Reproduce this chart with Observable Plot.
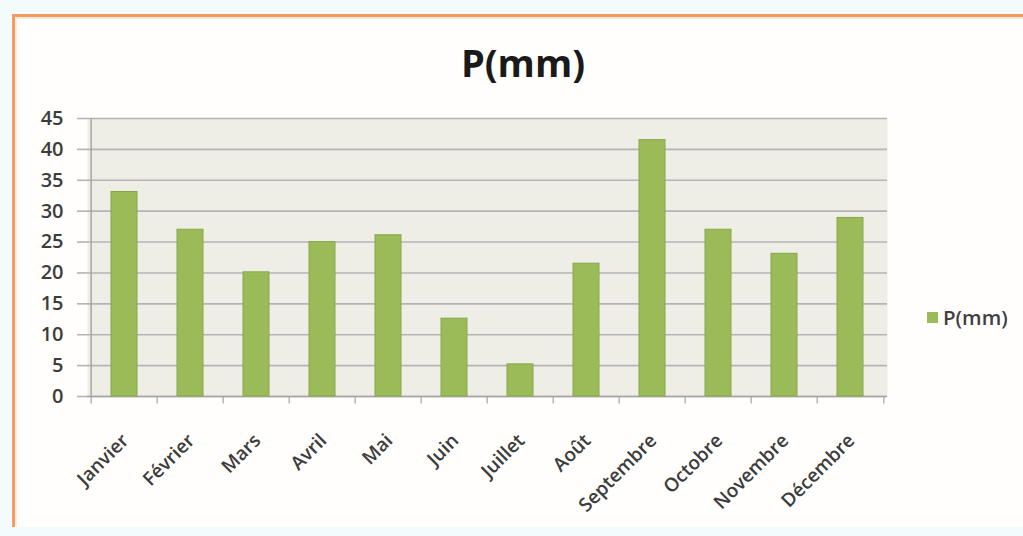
<!DOCTYPE html>
<html>
<head>
<meta charset="utf-8">
<script src="https://cdn.jsdelivr.net/npm/d3@7"></script>
<script src="https://cdn.jsdelivr.net/npm/@observablehq/plot@0.6"></script>
<style>
  html, body { margin: 0; padding: 0; width: 1023px; height: 536px; overflow: hidden; background: #ffffff; font-family: "Open Sans", sans-serif; }
  #wrap { position: relative; width: 1023px; height: 536px; background: #f4fbfc; }
  #frame { position: absolute; left: 12px; top: 14px; width: 1011px; height: 513px; border-top: 3px solid #ef9d62; border-left: 3px solid #ef9d62; background: #fffefc; box-sizing: border-box; box-shadow: inset 2px 2px 0 #fdeadb; }
  #chart { position: absolute; left: 0; top: 0; }
  #title { position: absolute; left: 0; width: 1046px; top: 43px; text-align: center; font-weight: 700; font-size: 38px; color: #1a1a1a; line-height: 1; }
  #legend { position: absolute; left: 927px; top: 303px; display: flex; align-items: center; font-size: 20.5px; font-weight: 600; color: #404040; }
  #legend .sw { width: 11px; height: 11px; background: #9bbb59; margin-right: 5px; }
</style>
</head>
<body>
<div id="wrap">
  <div id="frame"></div>
  <div id="chart"></div>
  <div id="title"></div>
  <div id="legend"><span class="sw"></span><span id="legtext"></span></div>
</div>
<script>
const months = ["Janvier","Février","Mars","Avril","Mai","Juin","Juillet","Août","Septembre","Octobre","Novembre","Décembre"];
const precip = [33.1, 27.0, 20.1, 25.0, 26.1, 12.6, 5.2, 21.5, 41.5, 27.0, 23.1, 28.9];
const yTicks = [0, 5, 10, 15, 20, 25, 30, 35, 40, 45];
const seriesName = "P(mm)";
const chartTitle = "P(mm)";

const data = months.map((m, i) => ({month: m, value: precip[i]}));

const W = 1023, H = 536;
const mL = 87, mR = 136, mT = 118, mB = 140;
const step = (W - mL - mR) / months.length;
const gridColor = "#b4b4b4";
const axisColor = "#a6a6a6";
const textColor = "#3c3c3c";

const chart = Plot.plot({
  width: W, height: H,
  marginLeft: mL, marginRight: mR, marginTop: mT, marginBottom: mB,
  style: {background: "transparent", fontFamily: "'Open Sans', sans-serif"},
  x: {domain: months, paddingInner: 0.6, paddingOuter: 0.3, axis: null},
  y: {domain: [0, 45], axis: null},
  marks: [
    Plot.frame({fill: "#eeeee6", stroke: null}),
    Plot.ruleY(yTicks, {stroke: gridColor, strokeWidth: 1.6}),
    Plot.axisY({ticks: yTicks, label: null, tickSize: 10, tickPadding: 14, fontSize: 20, fontWeight: 600, stroke: gridColor, strokeWidth: 1.6, fill: textColor, tickFormat: d => String(d)}),
    Plot.ruleX([months[0]], {x: d => d, y1: 0, y2: 45, dx: -step / 2, stroke: axisColor, strokeWidth: 1.5}),
    Plot.ruleY([0], {stroke: axisColor, strokeWidth: 1.5}),
    Plot.ruleX(months, {x: d => d, y1: 0, y2: -1.2, dx: -step / 2, stroke: axisColor, strokeWidth: 1.2}),
    Plot.ruleX([months[months.length - 1]], {x: d => d, y1: 0, y2: -1.2, dx: step / 2, stroke: axisColor, strokeWidth: 1.2}),
    Plot.barY(data, {x: "month", y: "value", fill: "#9bbb59", stroke: "#87a84a", strokeWidth: 1}),
    Plot.text(data, {x: "month", y: 0, text: "month", rotate: -45, textAnchor: "end", lineAnchor: "middle", dx: 1, dy: 41, fontSize: 19, fontWeight: 600, fill: textColor})
  ]
});
document.getElementById("chart").appendChild(chart);
document.getElementById("title").textContent = chartTitle;
document.getElementById("legtext").textContent = seriesName;
</script>
</body>
</html>
